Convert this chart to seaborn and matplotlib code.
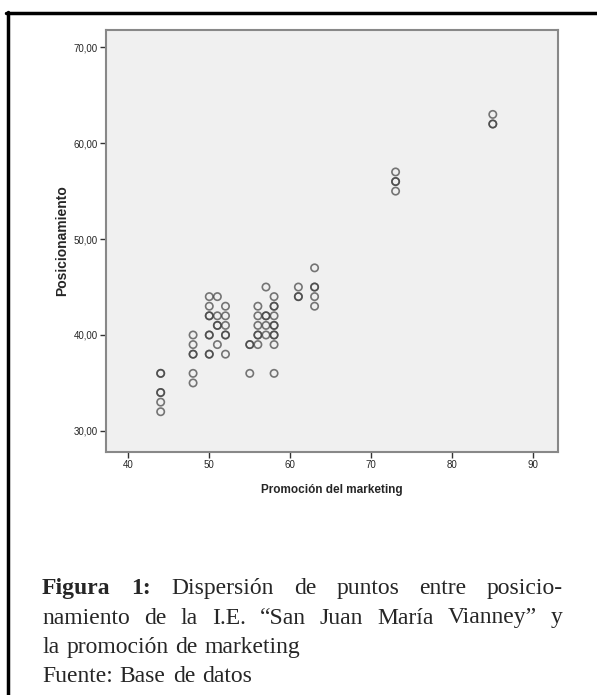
import matplotlib
matplotlib.use("Agg")
import matplotlib.pyplot as plt
import seaborn as sns
import pandas as pd

# datos (puntos repetidos = círculos más oscuros)
promocion = ([44] * 6 + [48] * 6 + [50] * 8 + [51] * 5 + [52] * 6 + [55] * 3 +
             [56] * 6 + [57] * 5 + [58] * 10 + [61] * 3 + [63] * 5 + [73] * 4 + [85] * 3)
posicionamiento = ([36, 36, 34, 34, 33, 32] +
                   [40, 39, 38, 38, 36, 35] +
                   [44, 43, 42, 42, 40, 40, 38, 38] +
                   [44, 42, 41, 41, 39] +
                   [43, 42, 41, 40, 40, 38] +
                   [39, 39, 36] +
                   [43, 42, 41, 40, 40, 39] +
                   [45, 42, 42, 41, 40] +
                   [44, 43, 43, 42, 41, 41, 40, 40, 39, 36] +
                   [45, 44, 44] +
                   [47, 45, 45, 44, 43] +
                   [57, 56, 56, 55] +
                   [63, 62, 62])
x_ticks = [40, 50, 60, 70, 80, 90]
y_ticks = [30, 40, 50, 60, 70]

df = pd.DataFrame({"Promoción del marketing": promocion, "Posicionamiento": posicionamiento})

sns.set_style("ticks")
plt.rcParams["font.family"] = ["Liberation Sans", "DejaVu Sans"]

fig = plt.figure(figsize=(5.97, 6.95), dpi=100)
ax = fig.add_axes([106 / 597, 1 - 452 / 695, 452 / 597, 422 / 695])
ax.set_facecolor("#f0f0f0")

sns.scatterplot(data=df, x="Promoción del marketing", y="Posicionamiento", ax=ax,
                marker="o", s=28, facecolor="none", edgecolor="#404040",
                linewidth=1.2, alpha=0.7)

ax.set_xlim(37.25, 93.05)
ax.set_ylim(27.8, 71.8)
ax.set_xticks(x_ticks)
ax.set_xticklabels([str(v) for v in x_ticks], fontsize=7)
ax.set_yticks(y_ticks)
ax.set_yticklabels([f"{v},00" for v in y_ticks], fontsize=7)
ax.tick_params(length=4, width=1, color="#333333", pad=2)
for side in ["top", "right", "left", "bottom"]:
    ax.spines[side].set_color("#888888")
    ax.spines[side].set_linewidth(1.5)
ax.set_xlabel("Promoción del marketing", fontsize=8.5, fontweight="bold", labelpad=10)
ax.set_ylabel("Posicionamiento", fontsize=10, fontweight="bold", labelpad=3)

# marco negro del recuadro
fig.add_artist(plt.Line2D([7.5 / 597, 7.5 / 597], [0, 1 - 12 / 695], color="black", lw=2.5))
fig.add_artist(plt.Line2D([6 / 597, 1], [1 - 12.5 / 695, 1 - 12.5 / 695], color="black", lw=2.5))

# pie de figura justificado
fig.canvas.draw()
renderer = fig.canvas.get_renderer()


def linea(palabras, y_px, justificar, x0=42, x1=563, size=17):
    textos = []
    for palabra, negrita in palabras:
        t = fig.text(0, 1 - y_px / 695, palabra, family="Liberation Serif", size=size,
                     fontweight="bold" if negrita else "normal", va="baseline")
        textos.append(t)
    anchos = [t.get_window_extent(renderer).width for t in textos]
    espacio = renderer.points_to_pixels(size) * 0.3
    if justificar and len(textos) > 1:
        espacio = (x1 - x0 - sum(anchos)) / (len(textos) - 1)
    x = x0
    for t, w in zip(textos, anchos):
        t.set_x(x / 597)
        x += w + espacio


linea([("Figura", True), ("1:", True)] +
      [(p, False) for p in "Dispersión de puntos entre posicio-".split()], 594, True)
linea([(p, False) for p in "namiento de la I.E. “San Juan María Vianney” y".split()], 623.5, True)
linea([(p, False) for p in "la promoción de marketing".split()], 653, False)
linea([(p, False) for p in "Fuente: Base de datos".split()], 682, False)

fig.savefig("out.png", dpi=100)
